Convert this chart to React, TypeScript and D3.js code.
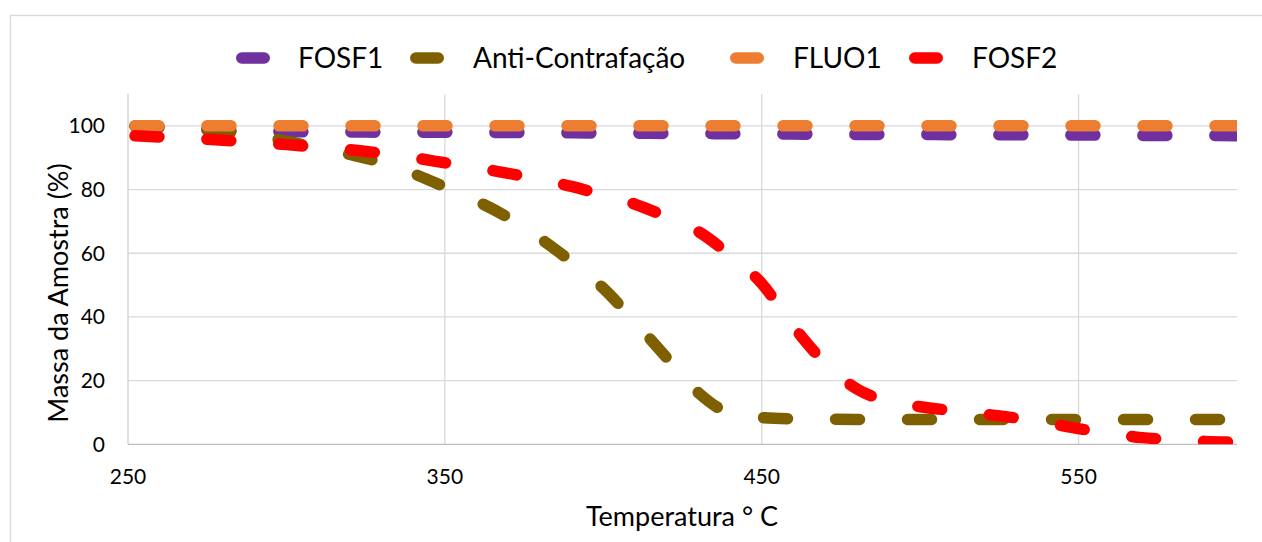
import React from "react";
import * as d3 from "d3";

// temperatura (°C) e massa (%)
const temps = [250, 260, 270, 280, 290, 300, 310, 320, 330, 340, 350, 360, 370, 380, 390, 400, 410, 420,
  430, 440, 450, 460, 470, 480, 490, 500, 510, 520, 530, 540, 550, 560, 570, 580, 590, 600];

const fosf1 = [100, 99.5, 99.0, 98.6, 98.4, 98.2, 98.1, 98.1, 98.0, 98.0, 98.0, 97.9, 97.9, 97.8, 97.8, 97.7, 97.7, 97.6,
  97.6, 97.5, 97.5, 97.4, 97.4, 97.3, 97.3, 97.3, 97.2, 97.2, 97.2, 97.1, 97.1, 97.1, 97.0, 97.0, 97.0, 96.9];
const antiContrafacao = [100, 99.8, 99.3, 98.5, 97.0, 95.2, 93.1, 91.0, 88.5, 85.0, 80.8, 76.4, 71.2, 64.7, 57.3, 49.0, 38.4, 27.2,
  16.2, 9.8, 8.4, 8.0, 7.9, 7.8, 7.8, 7.8, 7.8, 7.8, 7.8, 7.8, 7.8, 7.8, 7.8, 7.8, 7.8, 7.8];
const fluo1 = [100, 100, 100, 100, 100, 100, 100, 100, 100, 100, 100, 100, 100, 100, 100, 100, 100, 100,
  100, 100, 100, 100, 100, 100, 100, 100, 100, 100, 100, 100, 100, 100, 100, 100, 100, 100];
const fosf2 = [97.0, 96.5, 96.1, 95.5, 94.8, 94.1, 93.3, 92.5, 91.4, 90.0, 88.4, 86.8, 85.1, 83.0, 81.0, 78.2, 75.4, 71.4,
  66.8, 59.4, 50.5, 37.0, 25.5, 17.4, 13.5, 11.8, 10.6, 9.5, 8.3, 6.7, 4.9, 3.4, 2.1, 1.4, 0.9, 0.7];

const seriesNames = ["FOSF1", "Anti-Contrafação", "FLUO1", "FOSF2"];
const seriesValues = [fosf1, antiContrafacao, fluo1, fosf2];
const seriesColors = ["#7030A0", "#7F6000", "#ED7D31", "#FF0000"];

const xTicks = [250, 350, 450, 550];
const yTicks = [0, 20, 40, 60, 80, 100];

const W = 1262, H = 542;
const plot = { left: 128, right: 1237, top: 94, bottom: 444.3 };
const FONT = "Lato, 'Open Sans', sans-serif";
const STROKE = 11.5;

// posicoes da legenda (marcador, texto)
const legendPos = [
  { m: 236, t: 298 },
  { m: 410, t: 473 },
  { m: 730, t: 793 },
  { m: 909, t: 972 },
];

export default function App() {
  const x = d3.scaleLinear().domain([250, 600]).range([plot.left, plot.right]);
  const y = d3.scaleLinear().domain([0, 110]).range([plot.bottom, plot.top]);

  const line = d3.line<number>()
    .x((_, i) => x(temps[i]))
    .y((d) => y(d))
    .curve(d3.curveMonotoneX);

  return (
    <svg width={W} height={H} style={{ position: "absolute", left: 0, top: 0, background: "#fff" }}
      fontFamily={FONT}>
      <defs>
        <clipPath id="plotClip">
          <rect x={plot.left} y={plot.top} width={plot.right - plot.left} height={plot.bottom - plot.top} />
        </clipPath>
      </defs>

      <rect x={10.5} y={15.5} width={1300} height={600} fill="#fff" stroke="#D9D9D9" strokeWidth={1.3} />

      {/* grid */}
      {yTicks.filter((t) => t > 0).map((t) => (
        <line key={"gy" + t} x1={plot.left} x2={plot.right} y1={y(t)} y2={y(t)} stroke="#D9D9D9" strokeWidth={1.3} />
      ))}
      {xTicks.filter((t) => t > 250).map((t) => (
        <line key={"gx" + t} x1={x(t)} x2={x(t)} y1={plot.top} y2={plot.bottom} stroke="#D9D9D9" strokeWidth={1.3} />
      ))}
      <line x1={plot.left} x2={plot.left} y1={plot.top} y2={plot.bottom} stroke="#D0D0D0" strokeWidth={1.3} />
      <line x1={plot.left} x2={plot.right} y1={plot.bottom} y2={plot.bottom} stroke="#BFBFBF" strokeWidth={1.3} />

      {/* tick labels */}
      {yTicks.map((t) => (
        <text key={"ty" + t} x={105} y={y(t)} dy="0.35em" textAnchor="end" fontSize={21} fill="#000">{t}</text>
      ))}
      {xTicks.map((t) => (
        <text key={"tx" + t} x={x(t)} y={484} textAnchor="middle" fontSize={21} fill="#000">{t}</text>
      ))}

      {/* series */}
      <g clipPath="url(#plotClip)">
        {seriesValues.map((vals, i) => (
          <path key={seriesNames[i]} d={line(vals) || ""} fill="none" stroke={seriesColors[i]}
            strokeWidth={STROKE} strokeLinecap="round" strokeDasharray="24 48" strokeDashoffset={-7} />
        ))}
      </g>

      {/* legend */}
      {seriesNames.map((name, i) => (
        <g key={"lg" + name}>
          <line x1={legendPos[i].m + STROKE / 2} x2={legendPos[i].m + 34 - STROKE / 2} y1={58} y2={58}
            stroke={seriesColors[i]} strokeWidth={STROKE} strokeLinecap="round" />
          <text x={legendPos[i].t} y={58} dy="0.36em" fontSize={28} fill="#000">{name}</text>
        </g>
      ))}

      {/* axis titles */}
      <text x={682} y={526} textAnchor="middle" fontSize={27} fill="#000">Temperatura ° C</text>
      <text transform={`translate(68, 293) rotate(-90)`} textAnchor="middle" fontSize={27} fill="#000">
        Massa da Amostra (%)
      </text>
    </svg>
  );
}
